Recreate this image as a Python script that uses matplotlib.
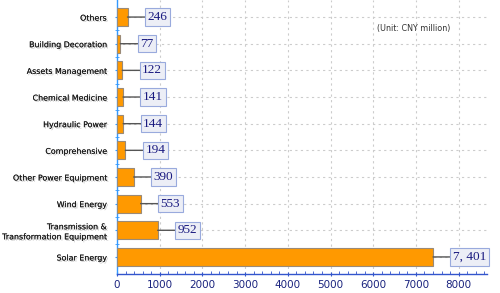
import matplotlib
matplotlib.use("Agg")
import matplotlib.pyplot as plt
import matplotlib.patheffects as pe
from matplotlib.ticker import MultipleLocator
from matplotlib.transforms import offset_copy

categories = [
    "Solar Energy",
    "Transmission &\nTransformation Equipment",
    "Wind Energy",
    "Other Power Equipment",
    "Comprehensive",
    "Hydraulic Power",
    "Chemical Medicine",
    "Assets Management",
    "Building Decoration",
    "Others",
]
values = [7401, 952, 553, 390, 194, 144, 141, 122, 77, 246]
value_labels = ["7, 401", "952", "553", "390", "194", "144", "141", "122", "77", "246"]
x_ticks = [0, 1000, 2000, 3000, 4000, 5000, 6000, 7000, 8000]

fig = plt.figure(figsize=(5.0, 2.93), dpi=100)
ax = fig.add_axes([117 / 500, 19 / 293, 370 / 500, 274 / 293])

pos = list(range(len(categories)))
ax.barh(pos, values, height=0.67, color="#ff9900", edgecolor="#9a8a78",
        linewidth=0.8, zorder=3)

ax.set_xlim(0, 8665)
ax.set_ylim(-0.64, len(categories) - 0.36)

ax.set_yticks(pos)
ax.set_yticklabels(categories, fontsize=5.7, color="#1a1a1a", linespacing=1.15)
for t in ax.get_yticklabels():
    t.set_path_effects([pe.withSimplePatchShadow(offset=(1, -1), shadow_rgbFace="#cccccc", alpha=1),
                        pe.Normal()])
ax.set_yticks([p + 0.5 for p in pos[:-1]], minor=True)

ax.set_xticks(x_ticks)
ax.set_xticklabels([str(v) for v in x_ticks], fontsize=7.5, color="#1a237e")
ax.xaxis.set_minor_locator(MultipleLocator(200))

ax.tick_params(axis="y", which="both", length=3, direction="inout", color="#3399ff", pad=6)
ax.tick_params(axis="x", which="major", length=3, direction="inout", color="#3355cc", pad=3)
ax.tick_params(axis="x", which="minor", length=2, direction="in", color="#3355cc")

for s in ["top", "right"]:
    ax.spines[s].set_visible(False)
ax.spines["left"].set_color("#3399ff")
ax.spines["bottom"].set_color("#3355cc")
ax.spines["left"].set_linewidth(1.0)
ax.spines["bottom"].set_linewidth(1.0)

ax.grid(True, which="major", color="#cccccc", linestyle=(0, (2, 3)), linewidth=0.8, zorder=0)

# value callouts: connector line then boxed value
gap = 20 * 72 / 100  # 20 px in points
for p, v, lab in zip(pos, values, value_labels):
    ax.annotate("", xy=(v, p), xytext=(gap, 0), textcoords="offset points",
                arrowprops=dict(arrowstyle="-", color="#555555", lw=1.0,
                                shrinkA=0, shrinkB=0), zorder=4)
    tr = offset_copy(ax.transData, fig=fig, x=gap, y=0, units="points")
    ax.text(v, p, lab, transform=tr, ha="left", va="center", fontsize=9.5,
            family="Liberation Serif", color="#1a1a80", zorder=5,
            bbox=dict(boxstyle="square,pad=0.2", facecolor="#eceef6", edgecolor="#99aadd", linewidth=0.8))

fig.text(377 / 500, 1 - 29 / 293, "(Unit: CNY million)", fontsize=5.8,
         color="#333333", va="center", ha="left")

fig.savefig("out.png", dpi=100)
